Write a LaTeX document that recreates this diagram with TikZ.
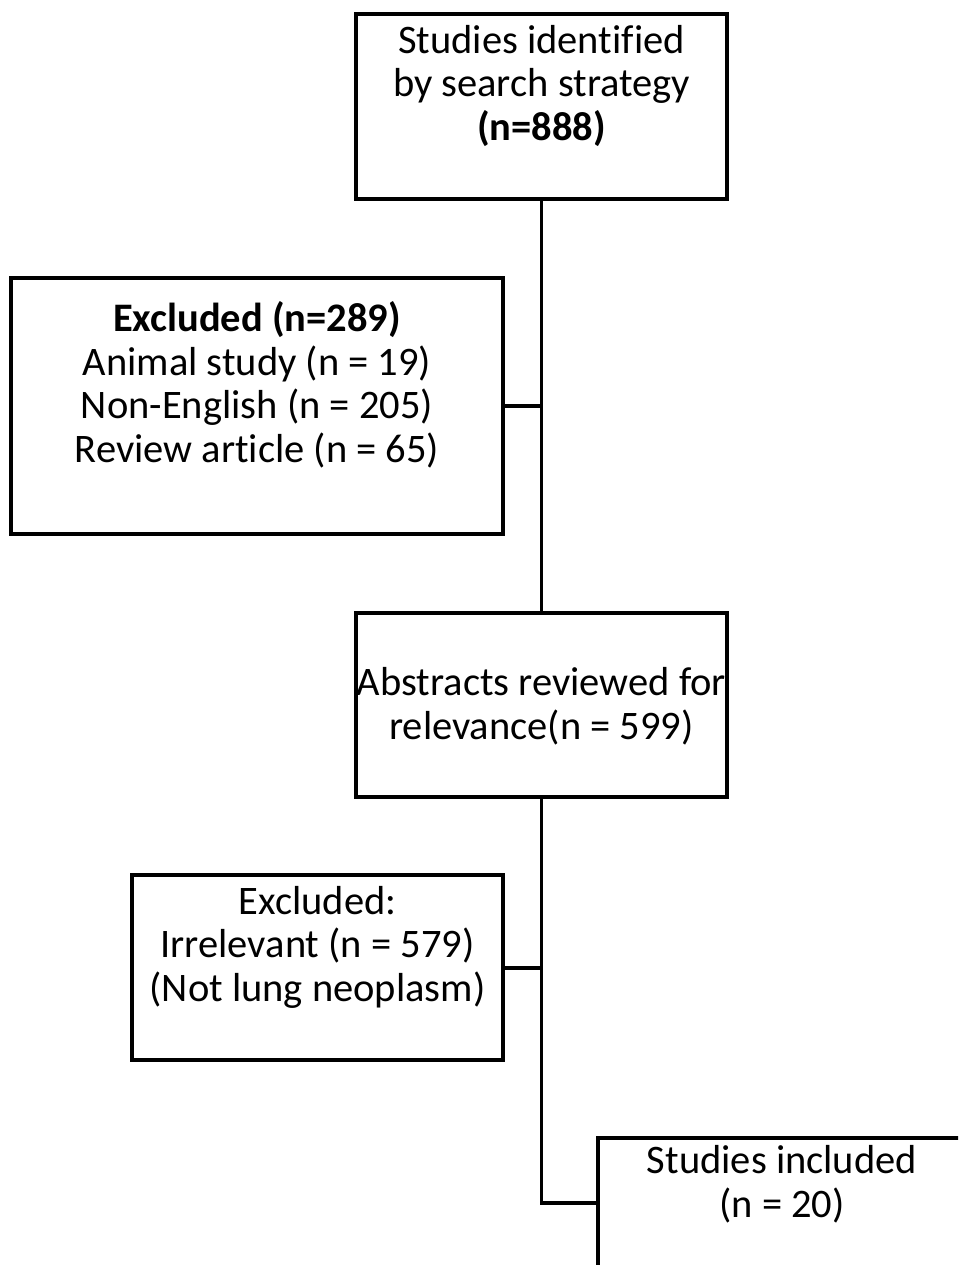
\documentclass[tikz,border=0pt]{standalone}
\usepackage{fontspec}
\setmainfont[Ligatures=NoCommon]{Carlito}
\begin{document}
\begin{tikzpicture}[x=1pt,y=-1pt,
  box/.style={draw=black, line width=3.2pt, inner sep=0pt},
  txt/.style={align=center, inner sep=0pt, font=\fontsize{40.5}{43.5}\selectfont},
  link/.style={draw=black, line width=3.2pt}]
\useasboundingbox (0,0) rectangle (958,1265);
\begin{scope}
\clip (0,0) rectangle (958,1265);
% boxes
\node[box, minimum width=371pt, minimum height=185pt] (top) at (541.5,106.5) {};
\node[box, minimum width=492pt, minimum height=256pt] (ex1) at (257,406) {};
\node[box, minimum width=371pt, minimum height=184pt] (abs) at (541.5,705) {};
\node[box, minimum width=371pt, minimum height=185pt] (ex2) at (317.5,967.5) {};
\node[box, minimum width=400pt, minimum height=200pt] (inc) at (798,1238) {};
% texts
\node[txt] (ttop) at (541.5,86) {Studies identified\\by search strategy\\\textbf{(n=888)}};
\node[txt] (tex1) at (257,385) {\textbf{Excluded (n=289)}\\Animal study (n = 19)\\Non-English (n = 205)\\Review article (n = 65)};
\node[txt] (tabs) at (541.5,706) {Abstracts reviewed for\\relevance(n = 599)};
\node[txt] (tex2) at (317.5,947) {Excluded:\\Irrelevant (n = 579)\\(Not lung neoplasm)};
\node[txt] (tinc) at (782,1184) {Studies included\\(n = 20)};
% connectors
\coordinate (j1) at (541.5,406);
\coordinate (j2) at (541.5,968);
\coordinate (j3) at (541.5,1203);
\draw[link] (top.south) -- (abs.north);
\draw[link] (j1) -- (ex1.east |- j1);
\draw[link] (abs.south) -- (j3) -- (inc.west |- j3);
\draw[link] (j2) -- (ex2.east |- j2);
\end{scope}
\end{tikzpicture}
\end{document}
